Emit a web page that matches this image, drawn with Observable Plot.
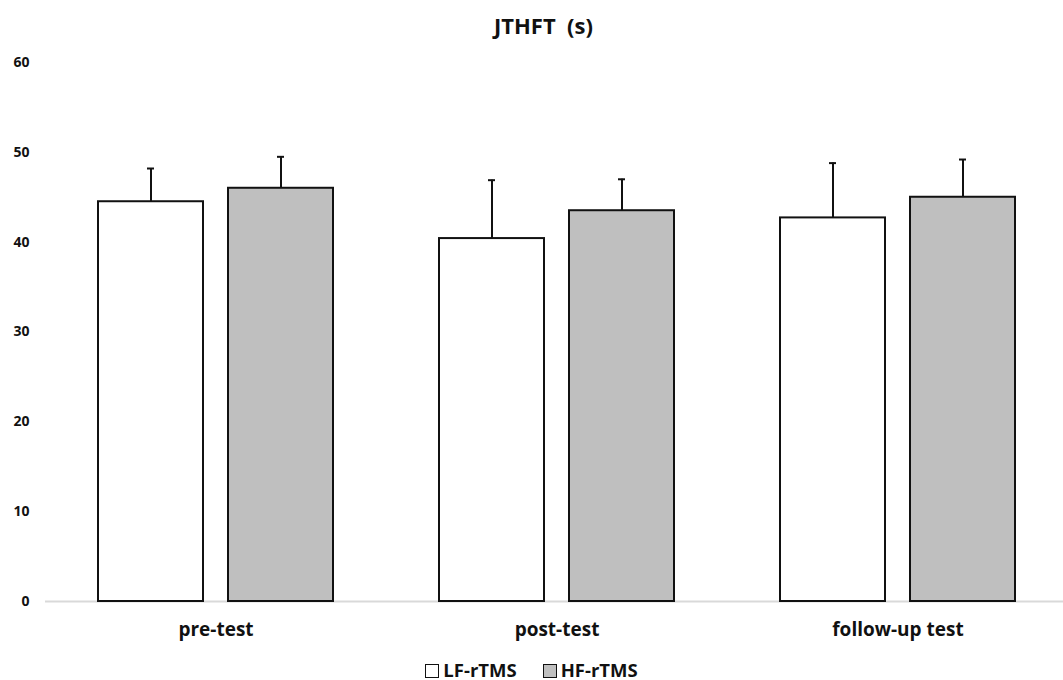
<!DOCTYPE html>
<html>
<head>
<meta charset="utf-8">
<script src="https://cdn.jsdelivr.net/npm/d3@7"></script>
<script src="https://cdn.jsdelivr.net/npm/@observablehq/plot@0.6"></script>
<style>
  body { margin: 0; background: #fff; font-family: "Open Sans", "Noto Sans", sans-serif; }
  #title { height: 50px; line-height: 50px; text-align: center; font-size: 22px; font-weight: 700; color: #111; padding-left: 24px; }
  #legend { height: 30px; display: flex; justify-content: center; align-items: center; font-size: 18.5px; font-weight: 700; color: #111; gap: 26px; padding-top: 8px; box-sizing: border-box; }
  .sw { display: inline-block; width: 12px; height: 12px; border: 1.5px solid #111; margin-right: 4px; vertical-align: -1px; }
  svg text { font-weight: 700; }
</style>
</head>
<body>
<div id="title">JTHFT&nbsp; (s)</div>
<div id="chart"></div>
<div id="legend"></div>
<script>
const groups = ["pre-test", "post-test", "follow-up test"];
const series = ["LF-rTMS", "HF-rTMS"];
const lfMean = [44.5, 40.4, 42.7];
const lfSD = [3.7, 6.5, 6.1];
const hfMean = [46.0, 43.5, 45.0];
const hfSD = [3.5, 3.5, 4.2];
const yTicks = [0, 10, 20, 30, 40, 50, 60];
const colors = ["#ffffff", "#bfbfbf"];

const data = [];
groups.forEach((g, i) => {
  data.push({group: g, series: series[0], mean: lfMean[i], sd: lfSD[i]});
  data.push({group: g, series: series[1], mean: hfMean[i], sd: hfSD[i]});
});
data.forEach(d => d.hi = d.mean + d.sd);

const chart = Plot.plot({
  width: 1063,
  height: 600,
  marginTop: 12,
  marginBottom: 49,
  marginLeft: 44,
  marginRight: -6,
  style: {fontFamily: '"Open Sans", "Noto Sans", sans-serif', color: "#111", background: "#fff"},
  fx: {domain: groups, padding: 0, label: null},
  x: {domain: series, paddingInner: 0.19, paddingOuter: 0.4, axis: null},
  y: {domain: [0, 60], ticks: yTicks, label: null},
  color: {domain: series, range: colors},
  marks: [
    Plot.axisY({ticks: yTicks, tickSize: 0, tickPadding: 16, fontSize: 14, fontWeight: "bold", label: null}),
    Plot.axisFx({anchor: "bottom", tickSize: 0, tickPadding: 21, fontSize: 19, fontWeight: "bold", label: null}),
    Plot.ruleY([0], {stroke: "#d9d9d9", strokeWidth: 2}),
    Plot.ruleX(data, {fx: "group", x: "series", y1: "mean", y2: "hi", stroke: "#111", strokeWidth: 2}),
    Plot.tickY(data, {fx: "group", x: "series", y: "hi", stroke: "#111", strokeWidth: 2, insetLeft: 49, insetRight: 49}),
    Plot.barY(data, {fx: "group", x: "series", y: "mean", fill: "series", stroke: "#111", strokeWidth: 2})
  ]
});
document.getElementById("chart").appendChild(chart);

const legend = document.getElementById("legend");
series.forEach((s, i) => {
  const item = document.createElement("span");
  const sw = document.createElement("span");
  sw.className = "sw";
  sw.style.background = colors[i];
  item.appendChild(sw);
  item.appendChild(document.createTextNode(s));
  legend.appendChild(item);
});
</script>
</body>
</html>
